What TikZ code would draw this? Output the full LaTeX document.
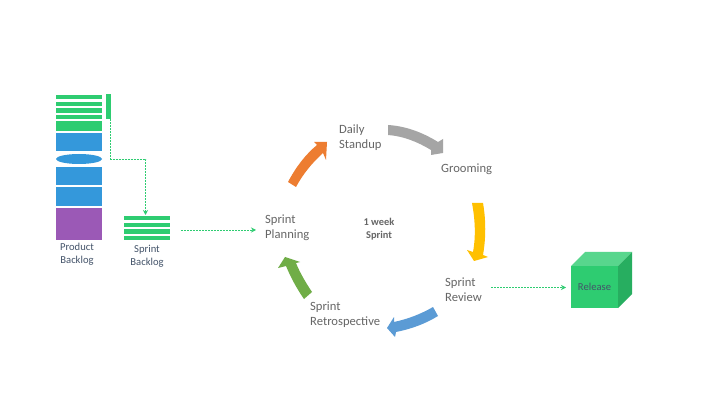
\documentclass[tikz,border=0pt]{standalone}
\usepackage{fontspec}
\setmainfont{Carlito}
\usetikzlibrary{arrows.meta,shapes.geometric}
\definecolor{bargreen}{HTML}{2ECC71}
\definecolor{barblue}{HTML}{3498DB}
\definecolor{barpurple}{HTML}{9B59B6}
\definecolor{slate}{HTML}{44546A}
\definecolor{lbl}{HTML}{666666}
\definecolor{cubetop}{HTML}{58D68D}
\definecolor{cubeside}{HTML}{27AE60}
\definecolor{linkg}{HTML}{2ECC71}
\definecolor{arrorange}{HTML}{ED7D31}
\definecolor{arrgray}{HTML}{A5A5A5}
\definecolor{arryellow}{HTML}{FFC000}
\definecolor{arrblue}{HTML}{5B9BD5}
\definecolor{arrgreen}{HTML}{70AD47}
\tikzset{
  lab/.style={font=\fontsize{12.6}{15}\selectfont,text=lbl,align=left,inner sep=0pt,anchor=west},
  back/.style={font=\fontsize{10.6}{13}\selectfont,text=slate,align=center,inner sep=0pt},
  wk/.style={font=\bfseries\fontsize{10.4}{13}\selectfont,text=lbl,align=center,inner sep=0pt},
  flow/.style={draw=linkg,dash pattern=on 2pt off 1pt,line width=0.8pt,-{Stealth[length=5pt,width=5pt]}},
}
\newcommand{\barnode}[5]{% name, colour, centre x, top y, bottom y
  \path[fill=#2] (#3-23,#4) rectangle (#3+23,#5);
  \coordinate (#1) at (#3,{(#4+#5)/2});
}
\begin{document}
\begin{tikzpicture}[x=1pt,y=-1pt]
\useasboundingbox (0,0) rectangle (713,409);
\fill[white] (0,0) rectangle (713,409);
% product backlog
\barnode{p1}{bargreen}{79}{95}{99}
\barnode{p2}{bargreen}{79}{102}{106}
\barnode{p3}{bargreen}{79}{108}{113}
\barnode{p4}{bargreen}{79}{115}{119}
\barnode{p5}{bargreen}{79}{121}{131}
\barnode{p6}{barblue}{79}{133}{151}
\node[fill=barblue,ellipse,inner sep=0pt,minimum width=46pt,minimum height=10pt] (pe) at (79,159) {};
\barnode{p7}{barblue}{79}{167}{185}
\barnode{p8}{barblue}{79}{187}{206}
\barnode{p9}{barpurple}{79}{208}{240}
\node[back] (pb) at (77,254) {Product\\Backlog};
% selected sliver
\path[fill=bargreen] (106,94) rectangle (110.5,119);
\coordinate (sliverend) at (110.5,119);
% sprint backlog
\barnode{s1}{bargreen}{147}{216}{220}
\barnode{s2}{bargreen}{147}{223}{227}
\barnode{s3}{bargreen}{147}{229}{234}
\barnode{s4}{bargreen}{147}{236}{240}
\node[back] (sb) at (147,256) {Sprint\\Backlog};
\coordinate (sbin) at (145.5,215);
\draw[flow] (sliverend) -- (110.5,159) -- (145.5,159) -- (sbin);
% cycle labels
\node[lab] (standup) at (339,137.5) {Daily\\Standup};
\node[lab] (groom) at (441,169.5) {Grooming};
\node[lab] (planning) at (265,227.5) {Sprint\\Planning};
\node[lab] (review) at (445,289.5) {Sprint\\Review};
\node[lab] (retro) at (310,314.5) {Sprint\\Retrospective};
\node[wk] (week) at (379,229) {1 week\\Sprint};
% block arrows
\fill[arrorange] (288,182) .. controls (296,167) and (305,155) .. (317,145) -- (314,142) -- (327,142) -- (326,160) -- (323,153) .. controls (312,163) and (303,174) .. (296,187) -- cycle;
\fill[arrgray] (388,125) .. controls (405,126) and (422,132) .. (438,142) -- (443,139) -- (443,153) -- (431,155) -- (431,150) .. controls (418,142) and (403,136) .. (388,135) -- cycle;
\fill[arryellow] (472,203) -- (483,203) .. controls (486,220) and (486,238) .. (483,255) -- (488,257) -- (474,261) -- (467,250) -- (473,252) .. controls (476,236) and (475,219) .. (472,203) -- cycle;
\fill[arrblue] (433,307) -- (438,316) .. controls (425,324) and (411,329) .. (396,332) -- (395,337) -- (387,328) -- (394,317) -- (394,322) .. controls (408,319) and (421,314) .. (433,307) -- cycle;
\fill[arrgreen] (304,299) .. controls (297,289) and (291,278) .. (286,266) -- (278,268) -- (285,257) -- (300,262) -- (296,263) .. controls (300,273) and (306,283) .. (312,292) -- cycle;
% release cube
\fill[cubetop] (571,266) -- (585,252) -- (632,252) -- (618,266) -- cycle;
\fill[cubeside] (618,266) -- (632,252) -- (632,294) -- (618,308) -- cycle;
\node[fill=bargreen,minimum width=47pt,minimum height=42pt,inner sep=0pt,font=\fontsize{10.6}{11}\selectfont,text=slate] (release) at (594.5,287) {Release};
% flow connectors
\coordinate (sbout) at (181,230);
\coordinate (planin) at (256,230);
\draw[flow] (sbout) -- (planin);
\coordinate (revout) at (491,287.5);
\coordinate (relin) at (566,287.5);
\draw[flow] (revout) -- (relin);
\end{tikzpicture}
\end{document}
